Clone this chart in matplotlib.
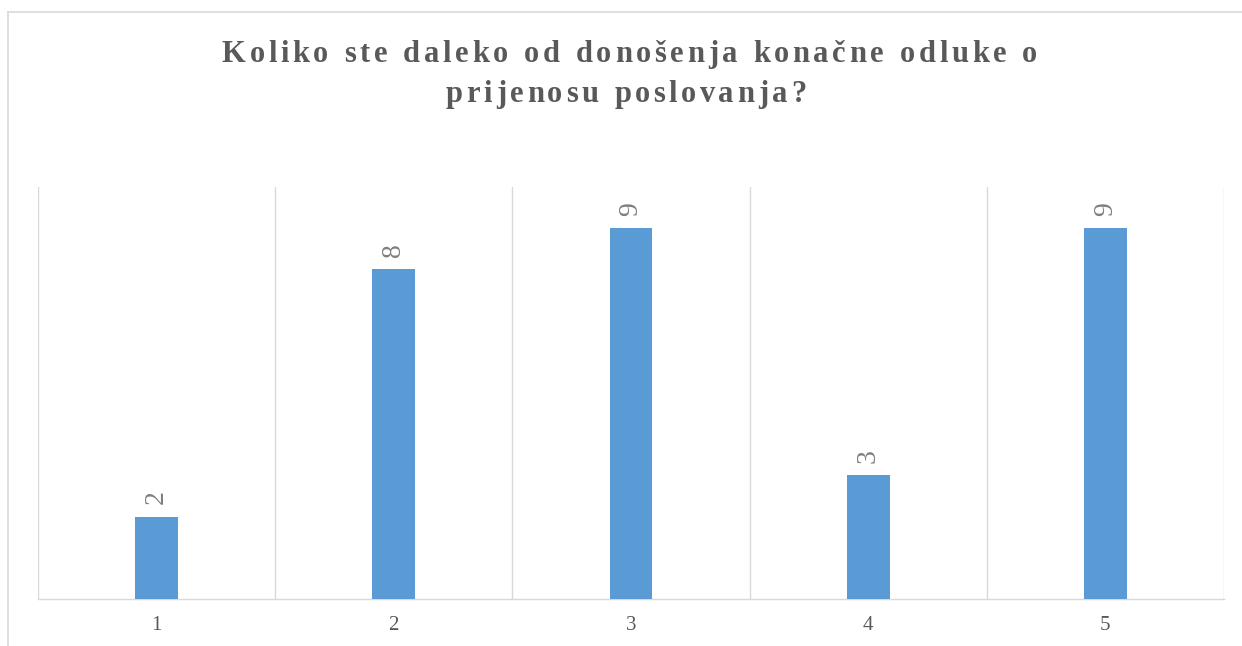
import numpy as np
import matplotlib
matplotlib.use("Agg")
from matplotlib import pyplot as plt
from matplotlib.lines import Line2D

# Data
categories = ["1", "2", "3", "4", "5"]
values = [2, 8, 9, 3, 9]
title_lines = ["Koliko ste daleko od donošenja konačne odluke o",
               "prijenosu poslovanja?"]

bar_color = "#5B9BD5"
grid_color = "#D9D9D9"
text_color = "#595959"
serif = ["Liberation Serif", "DejaVu Serif"]

fig = plt.figure(figsize=(12.42, 6.46), dpi=100)
ax = fig.add_axes([38 / 1242, 47 / 646, (1224 - 38) / 1242, (599 - 187) / 646])

x = np.arange(1, len(categories) + 1)
ax.bar(x, values, width=0.18, color=bar_color, zorder=3)

ax.set_xlim(0.5, len(categories) + 0.5)
ax.set_ylim(0, 10)

# vertical category separators
for b in np.arange(0.5, len(categories) + 1, 1.0):
    ax.axvline(b, color=grid_color, lw=1.0, zorder=1)

for s in ["top", "right", "left"]:
    ax.spines[s].set_visible(False)
ax.spines["bottom"].set_color(grid_color)
ax.spines["bottom"].set_linewidth(1.0)
ax.set_yticks([])
ax.set_xticks(x)
ax.set_xticklabels(categories, family=serif, fontsize=15, color=text_color)
ax.tick_params(axis="x", length=0, pad=12)

# rotated value labels above bars
for xi, v in zip(x, values):
    ax.annotate(str(v), (xi, v), xytext=(0, 9), textcoords="offset points",
                ha="center", va="bottom", rotation=90, family=serif,
                fontsize=20, color="#7F7F7F")

# title with letter spacing, placed char by char
renderer = fig.canvas.get_renderer()
targets = [(222, 1037, 62), (446, 806, 102)]
for line, (x0, x1, yb) in zip(title_lines, targets):
    widths = []
    for ch in line:
        t = fig.text(0, 0, ch if ch != " " else "n", fontsize=22, fontweight="bold",
                     family=serif)
        w = t.get_window_extent(renderer).width
        if ch == " ":
            w *= 0.5
        widths.append(w)
        t.remove()
    gap = ((x1 - x0) - sum(widths)) / (len(line) - 1)
    pos = x0
    for ch, w in zip(line, widths):
        if ch != " ":
            fig.text(pos / 1242, 1 - yb / 646, ch, fontsize=22, fontweight="bold",
                     family=serif, color=text_color, ha="left", va="baseline")
        pos += w + gap

# chart frame (left and top edges visible)
fig.add_artist(Line2D([8 / 1242, 8 / 1242], [0, 1 - 12 / 646], color=grid_color, lw=1.2,
                      transform=fig.transFigure))
fig.add_artist(Line2D([8 / 1242, 1], [1 - 12 / 646, 1 - 12 / 646], color=grid_color, lw=1.2,
                      transform=fig.transFigure))

fig.savefig("out.png", dpi=100)
